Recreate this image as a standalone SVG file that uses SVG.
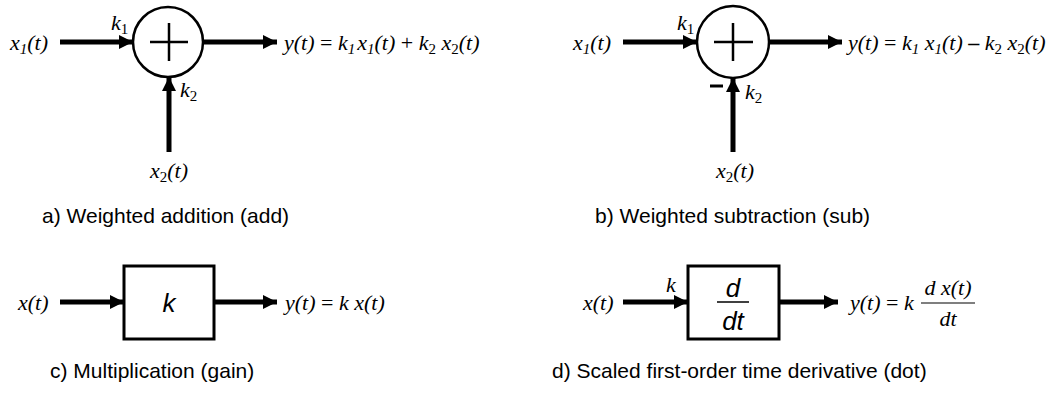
<svg xmlns="http://www.w3.org/2000/svg" width="1049" height="396" viewBox="0 0 1049 396">
<style>
.m{font-family:"Liberation Serif","Times New Roman",serif;font-style:italic;font-size:22px;fill:#000}
.ms{font-size:15px}
.up{font-style:normal}
.cap{font-family:"Liberation Sans",Arial,sans-serif;font-size:21px;fill:#000}
.bx{font-family:"Liberation Sans",Arial,sans-serif;font-style:italic;font-size:26px;fill:#000}
.w{stroke:#000;stroke-width:5;fill:none}
.sh{stroke:#000;stroke-width:2.5;fill:#fff}
.th{stroke:#000;stroke-width:2.5}
</style>
<defs>
<marker id="ah" markerUnits="userSpaceOnUse" markerWidth="14" markerHeight="14" viewBox="0 0 14 14" refX="14" refY="7" orient="auto">
<path d="M0,0 L14,7 L0,14 Z" fill="#000"/>
</marker>
</defs>
<g id="connectors">
<line class="w" x1="60" y1="42" x2="133" y2="42" marker-end="url(#ah)"/>
<line class="w" x1="203" y1="42" x2="277" y2="42" marker-end="url(#ah)"/>
<line class="w" x1="169" y1="152" x2="169" y2="77" marker-end="url(#ah)"/>
<line class="w" x1="623" y1="42" x2="697" y2="42" marker-end="url(#ah)"/>
<line class="w" x1="769" y1="42" x2="842" y2="42" marker-end="url(#ah)"/>
<line class="w" x1="733" y1="152" x2="733" y2="78" marker-end="url(#ah)"/>
<line class="w" x1="60" y1="302" x2="124" y2="302" marker-end="url(#ah)"/>
<line class="w" x1="214" y1="302" x2="277" y2="302" marker-end="url(#ah)"/>
<line class="w" x1="623" y1="302" x2="688" y2="302" marker-end="url(#ah)"/>
<line class="w" x1="779" y1="302" x2="838" y2="302" marker-end="url(#ah)"/>
</g>
<g id="sum-add">
<circle class="sh" cx="168" cy="42" r="35"/>
<line class="th" x1="150" y1="42" x2="188" y2="42"/>
<line class="th" x1="169" y1="23" x2="169" y2="61"/>
</g>
<g id="labels-a">
<text class="m" x="10" y="50">x<tspan class="ms" dy="4">1</tspan><tspan dy="-4">(t)</tspan></text>
<text class="m" x="111" y="30">k<tspan class="ms up" dy="4">1</tspan></text>
<text class="m" x="180" y="97">k<tspan class="ms up" dy="4">2</tspan></text>
<text class="m" x="150" y="178">x<tspan class="ms up" dy="4">2</tspan><tspan dy="-4">(t)</tspan></text>
<text class="m" x="284" y="50">y(t) <tspan class="up">=</tspan> k<tspan class="ms" dy="4">1</tspan><tspan dy="-4" dx="2">x</tspan><tspan class="ms" dy="4">1</tspan><tspan dy="-4">(t) </tspan><tspan class="up">+</tspan> k<tspan class="ms up" dy="4">2</tspan><tspan dy="-4"> x</tspan><tspan class="ms up" dy="4">2</tspan><tspan dy="-4">(t)</tspan></text>
<text class="cap" x="42" y="223">a) Weighted addition (add)</text>
</g>
<g id="sum-sub">
<circle class="sh" cx="733" cy="42" r="36"/>
<line class="th" x1="714" y1="42" x2="753" y2="42"/>
<line class="th" x1="733" y1="23" x2="733" y2="61"/>
<line stroke="#000" stroke-width="3" x1="710" y1="86" x2="723" y2="86"/>
</g>
<g id="labels-b">
<text class="m" x="573" y="50">x<tspan class="ms" dy="4">1</tspan><tspan dy="-4">(t)</tspan></text>
<text class="m" x="677" y="30">k<tspan class="ms up" dy="4">1</tspan></text>
<text class="m" x="745" y="99">k<tspan class="ms up" dy="4">2</tspan></text>
<text class="m" x="716" y="178">x<tspan class="ms up" dy="4">2</tspan><tspan dy="-4">(t)</tspan></text>
<text class="m" x="848" y="50">y(t) <tspan class="up">=</tspan> k<tspan class="ms" dy="4">1</tspan><tspan dy="-4"> x</tspan><tspan class="ms" dy="4">1</tspan><tspan dy="-4">(t) </tspan><tspan class="up" font-weight="bold">–</tspan> k<tspan class="ms up" dy="4">2</tspan><tspan dy="-4"> x</tspan><tspan class="ms up" dy="4">2</tspan><tspan dy="-4">(t)</tspan></text>
<text class="cap" x="595" y="223">b) Weighted subtraction (sub)</text>
</g>
<g id="gain">
<rect x="124" y="266" width="90" height="73" fill="#fff" stroke="#000" stroke-width="3"/>
<text class="bx" x="169" y="312" text-anchor="middle">k</text>
</g>
<g id="labels-c">
<text class="m" x="18" y="310">x(t)</text>
<text class="m" x="285" y="310">y(t) <tspan class="up">=</tspan> k x(t)</text>
<text class="cap" x="50" y="378">c) Multiplication (gain)</text>
</g>
<g id="dot">
<rect x="688" y="266" width="91" height="73" fill="#fff" stroke="#000" stroke-width="3"/>
<text class="bx" x="733" y="297" text-anchor="middle">d</text>
<line stroke="#000" stroke-width="1.5" x1="717" y1="302" x2="749" y2="302"/>
<text class="bx" x="733" y="330" text-anchor="middle">dt</text>
</g>
<g id="labels-d">
<text class="m" x="583" y="310">x(t)</text>
<text class="m" x="666" y="292">k</text>
<text class="m" x="850" y="310">y(t) <tspan class="up">=</tspan> k</text>
<text class="m" x="948" y="295" text-anchor="middle">d x(t)</text>
<line stroke="#000" stroke-width="1.2" x1="921" y1="303" x2="975" y2="303"/>
<text class="m" x="948" y="326" text-anchor="middle">dt</text>
<text class="cap" x="552" y="378">d) Scaled first-order time derivative (dot)</text>
</g>
</svg>
